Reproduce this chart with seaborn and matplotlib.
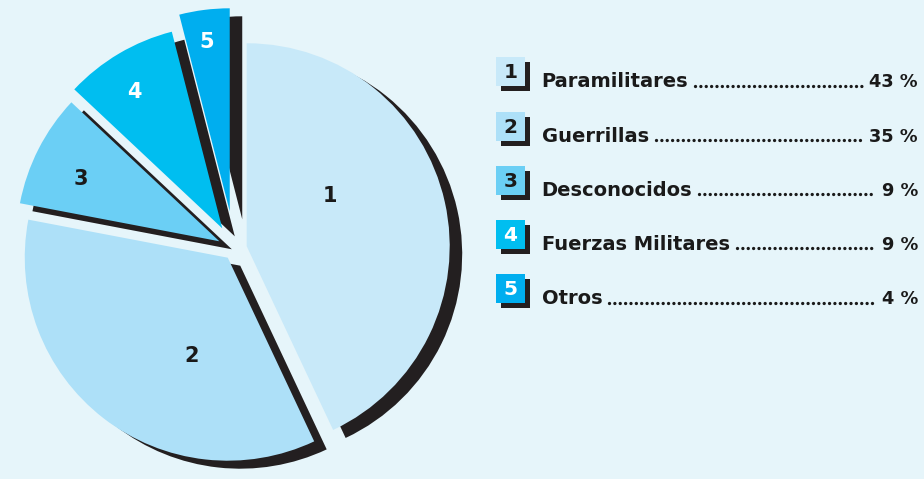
import matplotlib
matplotlib.use("Agg")
import matplotlib.pyplot as plt
import seaborn as sns
from matplotlib.patches import Rectangle
import numpy as np

# ---------------- data ----------------
slice_ids = ["1", "2", "3", "4", "5"]
categories = ["Paramilitares", "Guerrillas", "Desconocidos", "Fuerzas Militares", "Otros"]
values = [43, 35, 9, 9, 4]
value_labels = [f"{v} %" for v in values]

# ---------------- style ----------------
BG = "#e6f5fa"
SHADOW = "#231f20"
TEXT = "#1a1a1a"
palette = sns.color_palette(["#c8e9f9", "#ade0f8", "#6bcff5", "#00bef0", "#00aeef"])
num_colors = [TEXT, TEXT, TEXT, "white", "white"]

sns.set_style("white")
plt.rcParams["font.family"] = ["DejaVu Sans"]

W, H = 924, 479
R_PX = 203.0
CX, CY = 234.5, 249.0          # pie centre in pixels (from top-left)
explode_px = [12.5, 11.0, 17.0, 24.0, 38.0]
explode = [e / R_PX for e in explode_px]
shadow_off = (12.5 / R_PX, -8.0 / R_PX)
lab_ang_frac = [0.62, 0.64, 0.59, 0.57, 0.54]
lab_rad_frac = [0.48, 0.515, 0.75, 0.80, 0.84]

fig = plt.figure(figsize=(W / 100, H / 100), dpi=100, facecolor=BG)

# ---------------- pie ----------------
ax = fig.add_axes([0, 0, 1, 1])
ax.pie(values, explode=explode, startangle=90, counterclock=False,
       colors=[SHADOW] * len(values), center=shadow_off,
       wedgeprops=dict(linewidth=0), frame=True)
wedges, _ = ax.pie(values, explode=explode, startangle=90, counterclock=False,
                   colors=palette, wedgeprops=dict(linewidth=0), frame=True)
ax.set_xlim(-CX / R_PX, (W - CX) / R_PX)
ax.set_ylim(-(H - CY) / R_PX, CY / R_PX)
ax.set_aspect("auto")
ax.axis("off")

for w, sid, col, af, rf in zip(wedges, slice_ids, num_colors, lab_ang_frac, lab_rad_frac):
    cx, cy = w.center
    th = np.deg2rad(w.theta1 + af * (w.theta2 - w.theta1))
    r = rf * w.r
    ax.text(cx + r * np.cos(th), cy + r * np.sin(th), sid, ha="center", va="center",
            fontsize=15, fontweight="heavy", color=col)

# ---------------- legend ----------------
ax2 = fig.add_axes([0, 0, 1, 1])
ax2.set_xlim(0, W)
ax2.set_ylim(H, 0)
ax2.axis("off")

SQ_X, SQ = 496, 29
TXT_X, VAL_X = 541.7, 918
base0, step = 87.3, 54.2

labels_t, values_t, bases = [], [], []
for i, (sid, cat, vl) in enumerate(zip(slice_ids, categories, value_labels)):
    base = base0 + i * step
    top = base - 30
    ax2.add_patch(Rectangle((SQ_X + 5, top + 5), SQ, SQ, color=SHADOW, lw=0))
    ax2.add_patch(Rectangle((SQ_X, top), SQ, SQ, color=palette[i], lw=0))
    ax2.text(SQ_X + SQ / 2, top + SQ / 2 + 1, sid, ha="center", va="center",
             fontsize=14.5, fontweight="bold", color=num_colors[i])
    t = ax2.text(TXT_X, base, cat, ha="left", va="baseline", fontsize=14,
                 fontweight="bold", color=TEXT)
    v = ax2.text(VAL_X, base, vl, ha="right", va="baseline", fontsize=12.8,
                 fontweight="bold", color=TEXT)
    labels_t.append(t)
    values_t.append(v)
    bases.append(base)

fig.canvas.draw()
rend = fig.canvas.get_renderer()
for t, v, base in zip(labels_t, values_t, bases):
    x0 = t.get_window_extent(rend).x1 + 7
    x1 = v.get_window_extent(rend).x0 - 7
    ax2.plot([x0, x1], [base - 1.6, base - 1.6], color=TEXT, lw=2.4,
             linestyle=(0, (0.01, 1.6)), dash_capstyle="round")

fig.savefig("out.png", dpi=100, facecolor=BG)
